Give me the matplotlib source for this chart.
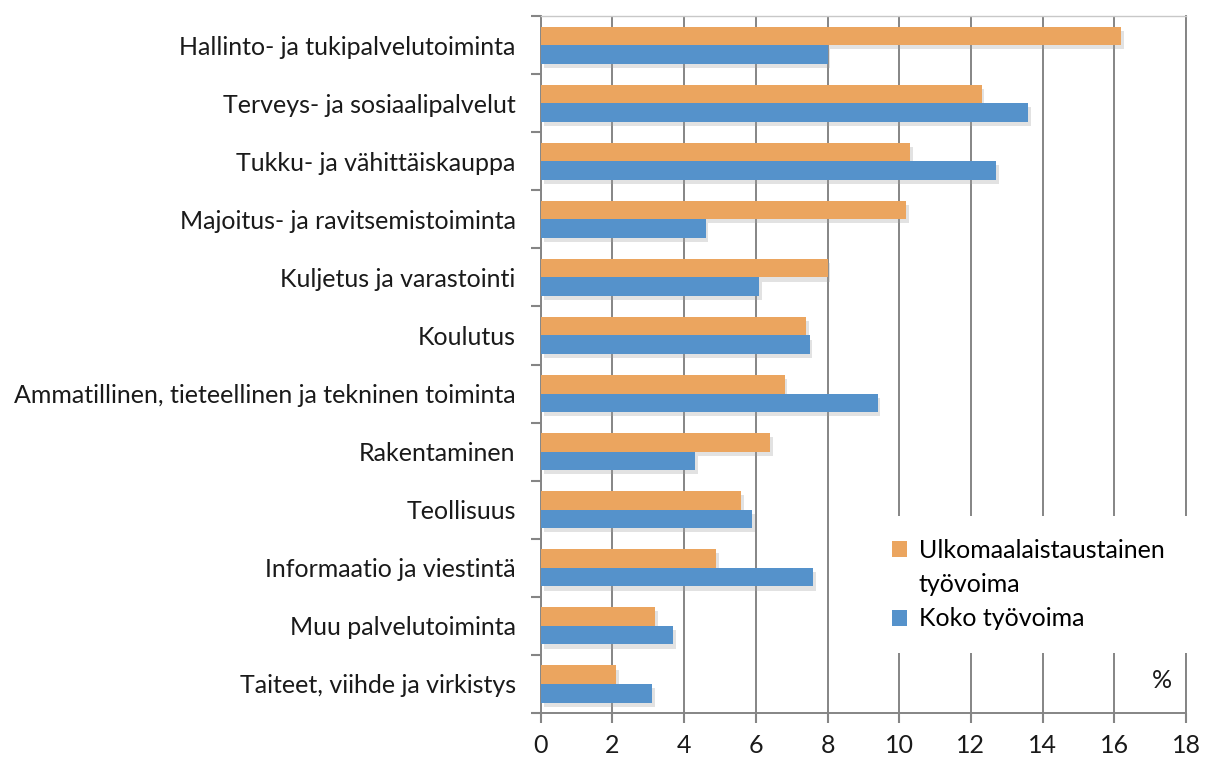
import matplotlib
matplotlib.use("Agg")
import matplotlib.pyplot as plt
import matplotlib.patheffects as pe
from matplotlib.patches import Patch
import numpy as np

CATEGORIES = [
    "Hallinto- ja tukipalvelutoiminta",
    "Terveys- ja sosiaalipalvelut",
    "Tukku- ja vähittäiskauppa",
    "Majoitus- ja ravitsemistoiminta",
    "Kuljetus ja varastointi",
    "Koulutus",
    "Ammatillinen, tieteellinen ja tekninen toiminta",
    "Rakentaminen",
    "Teollisuus",
    "Informaatio ja viestintä",
    "Muu palvelutoiminta",
    "Taiteet, viihde ja virkistys",
]
FOREIGN = [16.2, 12.3, 10.3, 10.2, 8.0, 7.4, 6.8, 6.4, 5.6, 4.9, 3.2, 2.1]
ALL = [8.0, 13.6, 12.7, 4.6, 6.1, 7.5, 9.4, 4.3, 5.9, 7.6, 3.7, 3.1]
SERIES = ["Ulkomaalaistaustainen", "työvoima", "Koko työvoima"]
XTICKS = list(range(0, 19, 2))

ORANGE = "#eba55f"
BLUE = "#5592cb"
GRID = "#858585"
TEXT = "#1a1a1a"

plt.rcParams["font.family"] = ["Lato", "DejaVu Sans"]

fig = plt.figure(figsize=(12.07, 7.65), dpi=100)
ax = fig.add_axes([0.448, 0.068, 0.5346, 0.911])

y = np.arange(len(CATEGORIES))
h = 0.32
shadow = [pe.SimplePatchShadow(offset=(2, -3), shadow_rgbFace="#a0a0a0", alpha=0.3), pe.Normal()]
b1 = ax.barh(y - h / 2, FOREIGN, height=h, color=ORANGE, zorder=3)
b2 = ax.barh(y + h / 2, ALL, height=h, color=BLUE, zorder=3)
for bar in list(b1) + list(b2):
    bar.set_path_effects(shadow)

ax.set_xlim(0, 18)
ax.set_ylim(11.42, -0.42)
ax.set_xticks(XTICKS)
ax.set_xticklabels([str(t) for t in XTICKS], fontsize=18)
ax.set_yticks(y)
ax.set_yticklabels(CATEGORIES, fontsize=18)
ax.set_yticks(np.arange(-0.5, len(CATEGORIES), 1.0), minor=True)
ax.tick_params(axis="y", which="major", length=0, pad=18, colors=TEXT)
ax.tick_params(axis="y", which="minor", length=7, width=1.5, color=GRID, direction="out")
ax.tick_params(axis="x", length=7, width=1.5, pad=8, colors=TEXT)
ax.tick_params(axis="x", color=GRID)

ax.grid(axis="x", color=GRID, linewidth=1.4, zorder=0)
ax.set_axisbelow(True)
for s in ax.spines.values():
    s.set_color(GRID)
    s.set_linewidth(1.4)
ax.spines["top"].set_color("#c8c8c8")
ax.spines["top"].set_linewidth(1.0)

# legend sits inside the plot on a white box that hides the gridlines;
# the wrapped first label gets an empty handle for its second line
handles = [Patch(facecolor=ORANGE), Patch(facecolor="none", edgecolor="none"), Patch(facecolor=BLUE)]
leg = ax.legend(handles, SERIES, loc="upper left", bbox_to_anchor=(0.49, 0.30),
                fontsize=18, frameon=True, facecolor="white", edgecolor="none",
                framealpha=1, fancybox=False, handlelength=0.62, handleheight=0.62,
                handletextpad=0.45, labelspacing=0.45, borderpad=0.9)
leg.set_zorder(4)

ax.text(0.963, 0.03, "%", transform=ax.transAxes, fontsize=18, ha="center",
        va="bottom", color=TEXT, zorder=5)

fig.savefig("out.png", dpi=100)
